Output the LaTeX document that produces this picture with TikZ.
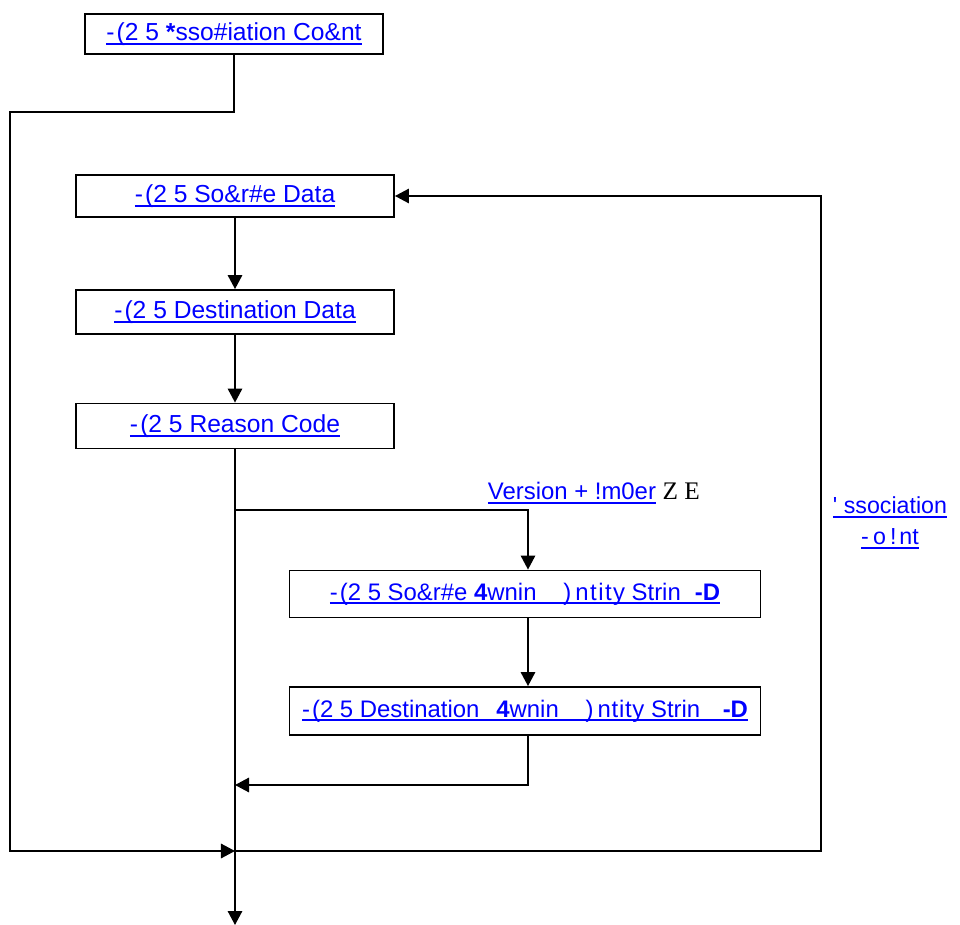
\documentclass[tikz,border=0pt]{standalone}
\usepackage{fontspec}
\setmainfont{Liberation Sans}
\newfontfamily\tmsfont{Liberation Serif}
\usepackage{tikz}
\usetikzlibrary{positioning, arrows.meta}
\definecolor{linkc}{RGB}{0,0,255}
% underlined link text
\newcommand\lnk[1]{\setbox0\hbox{#1}\rlap{\color{linkc}\rule[-3pt]{\wd0}{1.4pt}}\box0\relax}
\newcommand\pfx{-\kern1.5pt(2 5}
\newcommand\spr[2]{{\addfontfeature{LetterSpace=#1}#2}}

\begin{document}
\begin{tikzpicture}[x=0.025cm, y=-0.025cm, line width=1.3pt,
  >={Triangle[length=0.35cm, width=0.36cm]},
  font=\fontsize{17.5pt}{21pt}\selectfont,
  % boxes of the main column
  stepbox/.style={draw=black, fill=white, line width=1.3pt, minimum width=7.95cm,
                  minimum height=1.05cm, inner sep=0pt, text=linkc},
  ownbox/.style={stepbox, minimum width=11.775cm, minimum height=1.175cm,
                 font=\fontsize{17pt}{21pt}\selectfont},
  linklab/.style={text=linkc, inner sep=0pt},
]
\useasboundingbox (0,0) rectangle (960,925);

%% ── boxes ───────────────────────────────────────────────────────
\node[stepbox, minimum width=7.45cm, minimum height=1cm] (cnt) at (234,34)
  {\lnk{\pfx\ \textbf{*}sso\#iation Co\&nt}};
\node[stepbox] (src) at (235,196) {\lnk{\pfx\ So\&r\#e Data}};
\node[stepbox, minimum height=1.1cm] (dst) at (235,312) {\lnk{\pfx\ Destination Data}};
\node[stepbox, minimum height=1.125cm] (rsn) at (235,426) {\lnk{\pfx\ Reason Code}};
\node[ownbox] (srcown) at (525,594)
  {\lnk{\pfx\ So\&r\#e \textbf{4}wnin\hspace{19pt})\hspace{3pt}\spr{6}{ntity} Strin\hspace{10pt}\textbf{-D}}};
\node[ownbox, minimum height=1.2cm] (dstown) at (525,711)
  {\lnk{\pfx\ Destination\hspace{12pt}\textbf{4}wnin\hspace{19pt})\hspace{3pt}\spr{3}{ntity} Strin\hspace{16pt}\textbf{-D}}};

%% ── labels ──────────────────────────────────────────────────────
\node[linklab, anchor=west, font=\fontsize{17pt}{20pt}\selectfont] (ver) at (487,493)
  {\lnk{Version + !m0er} {\color{black}\tmsfont\fontsize{18pt}{20pt}\selectfont Z E}};
\node[linklab, align=center, font=\fontsize{16.5pt}{21pt}\selectfont] (asc) at (890,523)
  {\lnk{\textquotesingle\ ssociation}\\[1pt]\lnk{-\hspace{3pt}o\hspace{3pt}!\hspace{2pt}nt}};

%% ── junction points ─────────────────────────────────────────────
\coordinate (tl) at (10,112);
\coordinate (br) at (235,510);
\coordinate (rj) at (235,785);
\coordinate (mg) at (235,851);
\coordinate (lr) at (821,851);
\coordinate (out) at (235,925);

%% ── connectors ──────────────────────────────────────────────────
\draw[->] (cnt.south) |- (tl) |- (mg);
\draw[->] (src) -- (dst);
\draw[->] (dst) -- (rsn);
\draw[->] (rsn) -- (out);
\draw[->] (br) -| ([xshift=0.075cm]srcown.north);
\draw[->] ([xshift=0.075cm]srcown.south) -- ([xshift=0.075cm]dstown.north);
\draw[->] ([xshift=0.075cm]dstown.south) |- (rj);
\draw[->] (mg) -- (lr) |- (src.east);

\end{tikzpicture}
\end{document}
